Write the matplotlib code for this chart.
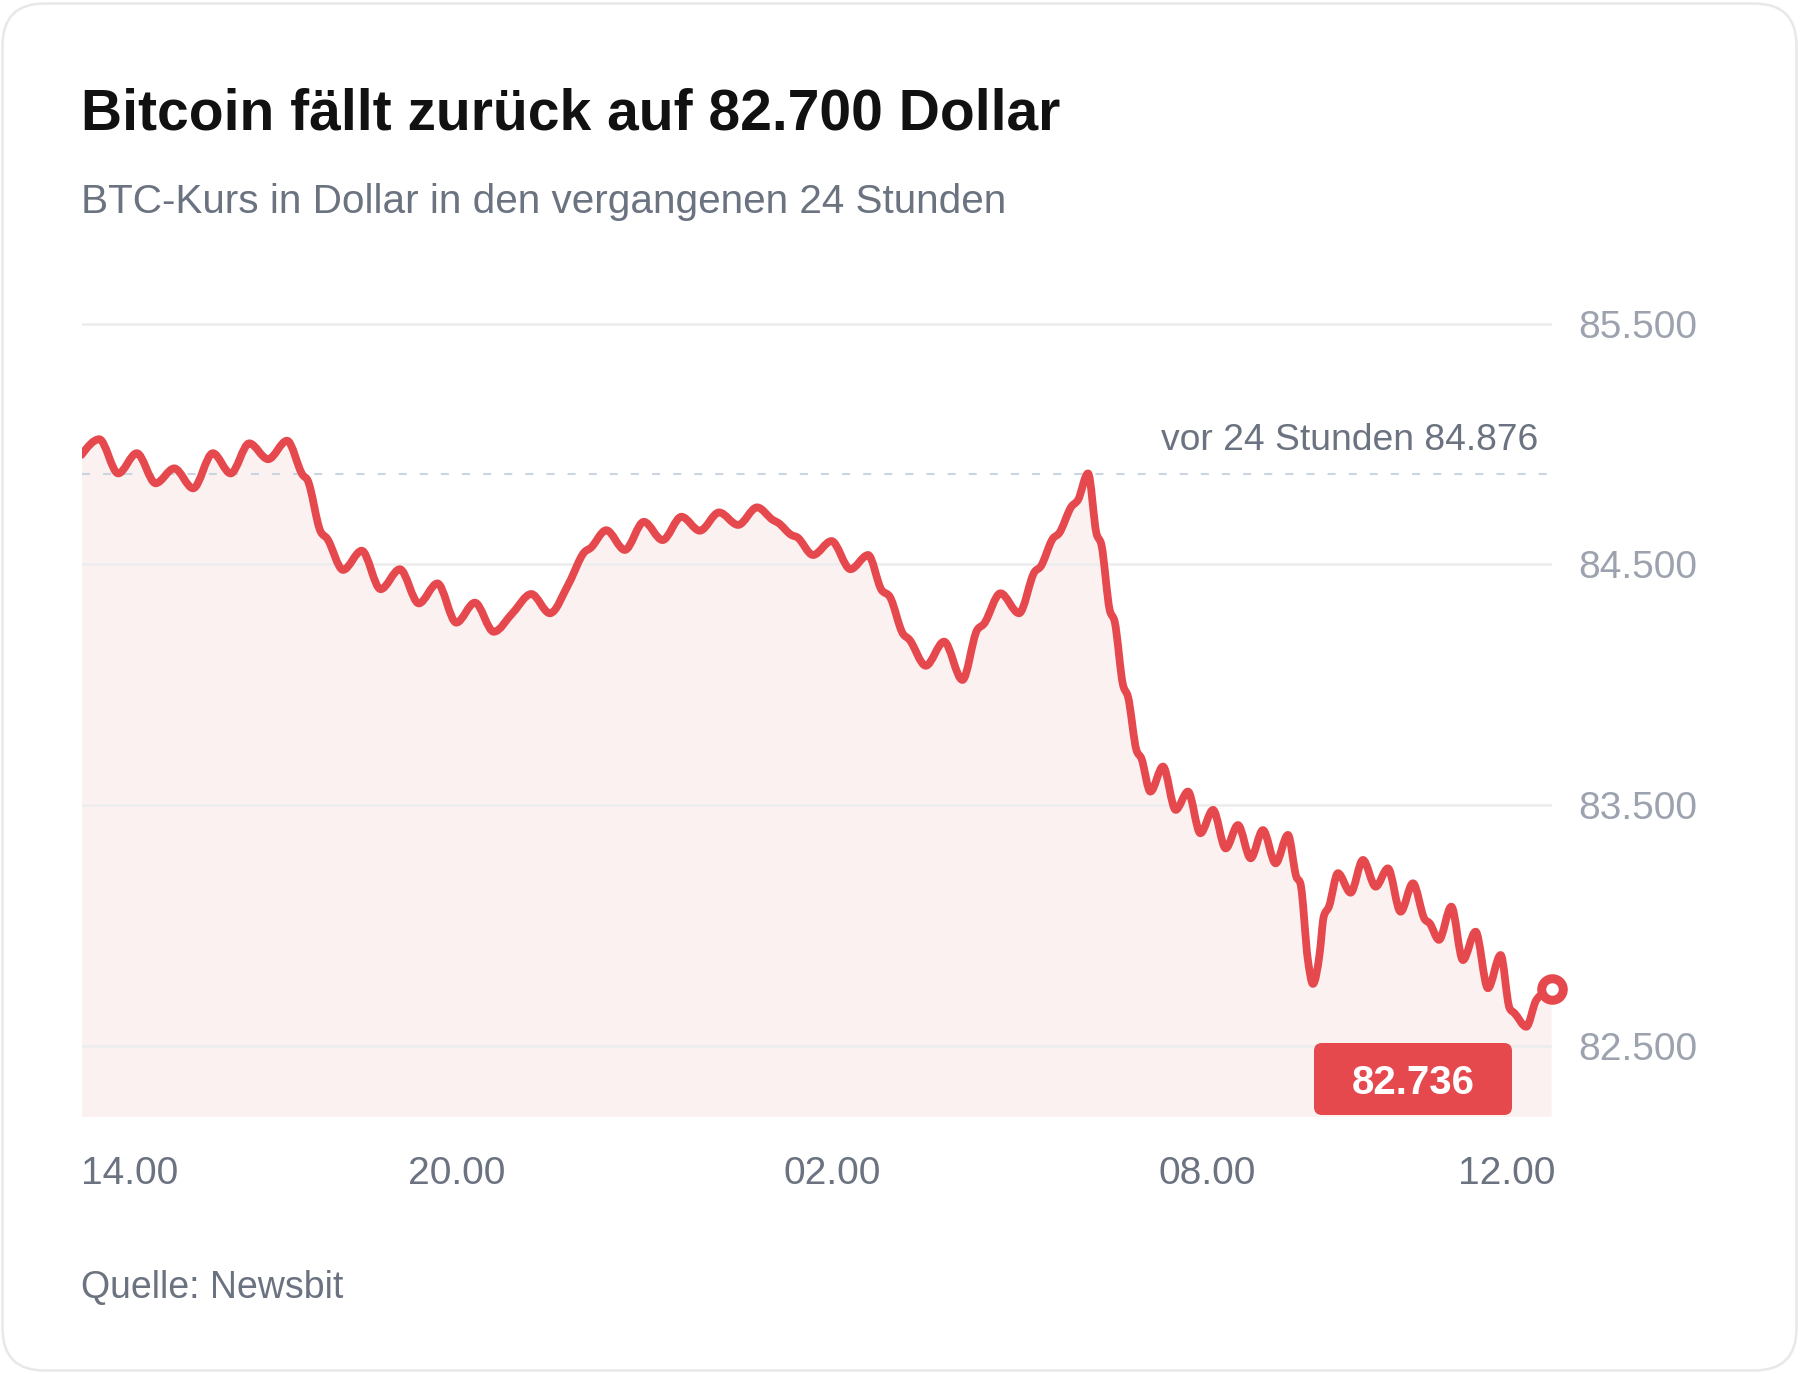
import matplotlib
matplotlib.use("Agg")
import matplotlib.pyplot as plt
import numpy as np
from matplotlib.path import Path
from matplotlib.patches import FancyBboxPatch, PathPatch
from matplotlib.transforms import IdentityTransform, blended_transform_factory

plt.rcParams['font.family'] = ['Liberation Sans', 'DejaVu Sans']
plt.rcParams['lines.scale_dashes'] = False

# hours after 14.00 and BTC price in dollars
hours = [0.000, 0.284, 0.587, 0.884, 1.186, 1.483, 1.785, 2.100, 2.385, 2.682,
         2.984, 3.286, 3.538, 3.612, 3.823, 3.925, 4.182, 4.480, 4.782, 5.090,
         5.392, 5.690, 5.992, 6.289, 6.591, 6.895, 7.190, 7.488, 7.791, 8.047,
         8.133, 8.389, 8.686, 8.990, 9.289, 9.592, 9.885, 10.193, 10.497, 10.800,
         11.056, 11.136, 11.350, 11.440, 11.695, 11.990, 12.293, 12.575, 12.789, 12.921,
         13.134, 13.230, 13.497, 13.789, 14.083, 14.317, 14.424, 14.691, 14.988, 15.239,
         15.330, 15.531, 15.627, 15.825, 15.931, 16.091, 16.225, 16.305, 16.437, 16.517,
         16.650, 16.730, 16.864, 16.944, 17.088, 17.289, 17.492, 17.689, 17.887, 18.089,
         18.292, 18.488, 18.691, 18.887, 19.090, 19.287, 19.421, 19.485, 19.606, 19.686,
         19.794, 19.858, 19.942, 20.086, 20.289, 20.486, 20.689, 20.885, 21.088, 21.285,
         21.472, 21.552, 21.701, 21.899, 22.084, 22.287, 22.484, 22.687, 22.830, 22.910,
         23.097, 23.257, 23.500]
prices = [84955, 85020, 84878, 84962, 84837, 84899, 84816, 84962, 84878, 85003,
          84937, 85014, 84871, 84851, 84636, 84608, 84477, 84557, 84397, 84480,
          84338, 84421, 84258, 84341, 84220, 84299, 84377, 84297, 84421, 84553,
          84567, 84642, 84560, 84677, 84601, 84698, 84640, 84716, 84664, 84737,
          84684, 84673, 84622, 84613, 84539, 84597, 84480, 84539, 84394, 84366,
          84211, 84189, 84079, 84179, 84020, 84227, 84252, 84380, 84297, 84470,
          84490, 84608, 84629, 84740, 84768, 84878, 84629, 84581, 84311, 84262,
          83999, 83950, 83729, 83694, 83556, 83660, 83480, 83556, 83383, 83480,
          83320, 83417, 83279, 83396, 83258, 83376, 83202, 83175, 82856, 82757,
          82884, 83036, 83078, 83217, 83136, 83272, 83161, 83237, 83057, 83175,
          83026, 83009, 82940, 83078, 82856, 82974, 82739, 82877, 82656, 82635,
          82579, 82690, 82736]
price_24h_ago = 84876

y_ticks = [82500, 83500, 84500, 85500]
x_ticks = [0, 6, 12, 18, 22]
x_labels = ['14.00', '20.00', '02.00', '08.00', '12.00']

title = 'Bitcoin fällt zurück auf 82.700 Dollar'
subtitle = 'BTC-Kurs in Dollar in den vergangenen 24 Stunden'
source = 'Quelle: Newsbit'


def de_num(v):
    return f"{v:,.0f}".replace(',', '.')


def monotone_curve(x, y):
    # smooth monotone cubic through the points (like d3.curveMonotoneX)
    x = np.asarray(x, float)
    y = np.asarray(y, float)
    n = len(x)
    h = np.diff(x)
    s = np.diff(y) / h
    t = np.zeros(n)
    for i in range(1, n - 1):
        p = (s[i - 1] * h[i] + s[i] * h[i - 1]) / (h[i - 1] + h[i])
        t[i] = (np.sign(s[i - 1]) + np.sign(s[i])) * min(abs(s[i - 1]), abs(s[i]), 0.5 * abs(p))
    t[0] = (3 * s[0] - t[1]) / 2
    t[-1] = (3 * s[-1] - t[-2]) / 2
    verts = [(x[0], y[0])]
    codes = [Path.MOVETO]
    for i in range(n - 1):
        d = h[i] / 3
        verts += [(x[i] + d, y[i] + t[i] * d), (x[i + 1] - d, y[i + 1] - t[i + 1] * d),
                  (x[i + 1], y[i + 1])]
        codes += [Path.CURVE4] * 3
    return verts, codes


RED = '#e5484d'
FILL = '#fbf1f1'
GRID = '#ededed'
GRAY = '#6b7280'
LIGHTGRAY = '#9ca3af'

W, H = 1800, 1374
fig = plt.figure(figsize=(W / 100, H / 100), dpi=100, facecolor='white')

# card with rounded border (behind everything)
card = FancyBboxPatch((2.5, 3.5), W - 6, H - 7,
                      boxstyle='round,pad=0,rounding_size=42',
                      transform=IdentityTransform(), facecolor='white',
                      edgecolor='#e8e8e8', linewidth=1.8, zorder=-5)
fig.patches.append(card)

# plot area in pixels (top-down): x 81.5..1551.5, y 310..1117
left, right, top, bottom = 81.5, 1551.5, 310, 1117
ymin, ymax = 82204, 85557
ax = fig.add_axes([left / W, 1 - bottom / H, (right - left) / W, (bottom - top) / H])
ax.set_facecolor('none')
ax.set_xlim(0, 23.5)
ax.set_ylim(ymin, ymax)
for s in ax.spines.values():
    s.set_visible(False)

verts, codes = monotone_curve(hours, prices)
area = Path(verts + [(hours[-1], ymin), (hours[0], ymin), (hours[0], prices[0])],
            codes + [Path.LINETO, Path.LINETO, Path.CLOSEPOLY])
ax.add_patch(PathPatch(area, facecolor=FILL, edgecolor='none', zorder=1))
for v in y_ticks:
    ax.axhline(v, color=GRID, lw=1.9, zorder=2)
ax.axhline(price_24h_ago, color='#cbd5e1', lw=1.5, dashes=(5.8, 9.4), zorder=3)
line = PathPatch(Path(verts, codes), fill=False, edgecolor=RED, lw=5.6, zorder=4)
line.set_capstyle('round')
line.set_joinstyle('round')
ax.add_patch(line)
ax.plot(hours[-1], prices[-1], 'o', ms=15.5, mfc='white', mec=RED, mew=6.5,
        zorder=5, clip_on=False)

ax.annotate(f'vor 24 Stunden {de_num(price_24h_ago)}',
            xy=(1, price_24h_ago),
            xycoords=blended_transform_factory(ax.transAxes, ax.transData),
            xytext=(-13.5, 24), textcoords='offset pixels',
            ha='right', va='baseline', fontsize=26.8, color=GRAY)

# y axis on the right
ax.yaxis.tick_right()
ax.set_yticks(y_ticks)
ax.set_yticklabels([de_num(v) for v in y_ticks])
ax.tick_params(axis='y', length=0, pad=19, labelsize=28, labelcolor=LIGHTGRAY)

# x axis
ax.set_xticks(x_ticks)
ax.set_xticklabels(x_labels)
ax.tick_params(axis='x', length=0, pad=28, labelsize=28, labelcolor=GRAY)
xl = ax.get_xticklabels()
xl[0].set_ha('left')
xl[-1].set_ha('left')

# value badge
bx0, by0, bx1, by1 = 1314, 1043, 1512, 1115
badge = FancyBboxPatch((bx0, H - by1), bx1 - bx0, by1 - by0,
                       boxstyle='round,pad=0,rounding_size=8',
                       transform=IdentityTransform(), facecolor=RED,
                       edgecolor='none', zorder=6)
fig.patches.append(badge)
fig.text((bx0 + bx1) / 2 / W, 1 - (by0 + by1) / 2 / H, de_num(prices[-1]),
         ha='center', va='center_baseline', fontsize=29, fontweight='bold',
         color='white', zorder=7)

fig.text(81 / W, 1 - 130 / H, title, ha='left', va='baseline',
         fontsize=41, fontweight='bold', color='#111111')
fig.text(81 / W, 1 - 213 / H, subtitle, ha='left', va='baseline',
         fontsize=29.2, color=GRAY)
fig.text(81 / W, 1 - 1298 / H, source, ha='left', va='baseline',
         fontsize=27, color=GRAY)

fig.savefig('out.png', dpi=100, facecolor='white')
